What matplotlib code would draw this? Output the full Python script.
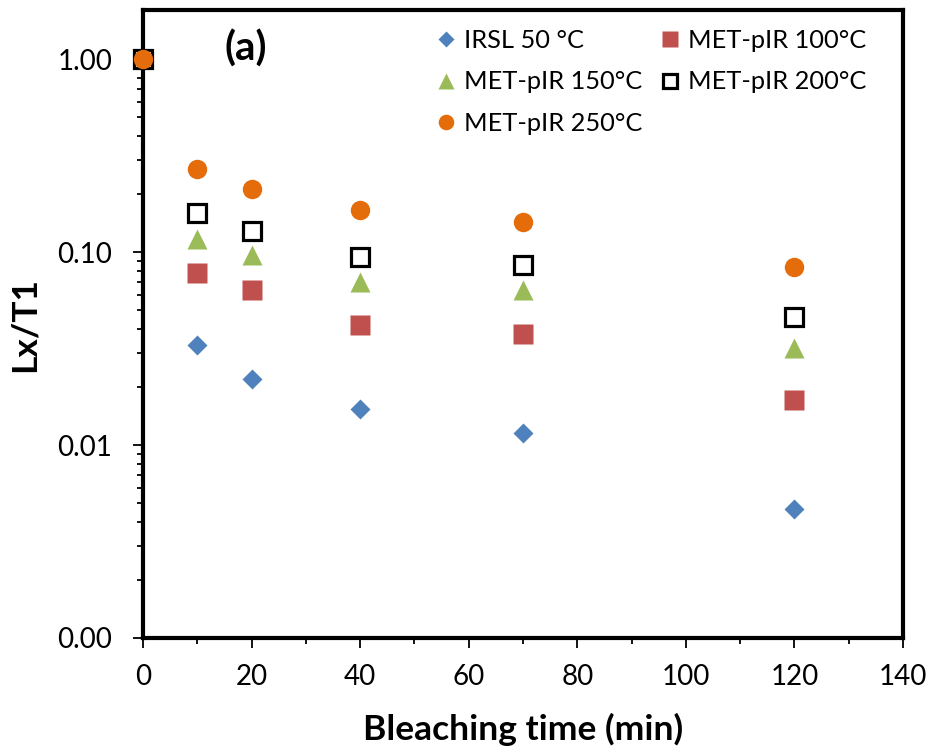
import matplotlib
matplotlib.use('Agg')
import matplotlib.pyplot as plt
from matplotlib.ticker import FixedLocator, FuncFormatter, LogLocator, NullFormatter, MultipleLocator

plt.rcParams['font.family'] = ['Lato', 'DejaVu Sans']

# 数据
times = [0, 10, 20, 40, 70, 120]
irsl_50 = [1.0, 0.0330, 0.0219, 0.0153, 0.0116, 0.00467]
met_100 = [1.0, 0.0783, 0.0634, 0.0421, 0.0377, 0.0171]
met_150 = [1.0, 0.117, 0.097, 0.0698, 0.0634, 0.0319]
met_200 = [1.0, 0.160, 0.128, 0.0948, 0.0855, 0.0459]
met_250 = [1.0, 0.269, 0.213, 0.1655, 0.144, 0.0838]

labels = ['IRSL 50 °C', 'MET-pIR 100°C', 'MET-pIR 150°C', 'MET-pIR 200°C', 'MET-pIR 250°C']

fig = plt.figure(figsize=(9.31, 7.55), dpi=100)
ax = fig.add_axes([143 / 931, 117 / 755, 760 / 931, 628 / 755])

# 散点（不连线）
kw = dict(ls='none', clip_on=False, zorder=3)
h_irsl, = ax.plot(times, irsl_50, 'D', ms=10.2, color='#4F81BD', mec='none', **kw)
h_100, = ax.plot(times, met_100, 's', ms=14.4, color='#C0504D', mec='none', **kw)
h_150, = ax.plot(times, met_150, '^', ms=15, color='#9BBB59', mec='none', **kw)
h_200, = ax.plot(times, met_200, 's', ms=12.5, mfc='white', mec='black', mew=2.3, **kw)
h_250, = ax.plot(times, met_250, 'o', ms=14, color='#E46C0A', mec='none', **kw)

ax.set_yscale('log')
ax.set_xlim(0, 140)
ax.set_ylim(0.001, 1.8)

ax.xaxis.set_major_locator(MultipleLocator(20))
ax.xaxis.set_minor_locator(MultipleLocator(10))
ax.yaxis.set_major_locator(FixedLocator([0.001, 0.01, 0.1, 1.0]))
ax.yaxis.set_minor_locator(LogLocator(base=10, subs=range(2, 10)))
ax.yaxis.set_minor_formatter(NullFormatter())
ax.yaxis.set_major_formatter(FuncFormatter(lambda v, p: '%.2f' % v))

for s in ax.spines.values():
    s.set_linewidth(3)
    s.set_color('black')

ax.tick_params(axis='both', which='major', direction='out', length=7, width=1.3,
               labelsize=20, color='black')
ax.tick_params(axis='both', which='minor', direction='out', length=4.5, width=1.3, color='black')
ax.tick_params(axis='y', which='major', pad=15)
ax.tick_params(axis='x', which='major', pad=12)
ax.tick_params(top=False, right=False, which='both')

ax.set_xlabel('Bleaching time (min)', fontsize=25.5, fontweight='bold', labelpad=16)
ax.set_ylabel('Lx/T1', fontsize=25.5, fontweight='bold', labelpad=12)

ax.text(246 / 931, 1 - 49 / 755, '(a)', transform=fig.transFigure, fontsize=29,
        fontweight='bold', ha='center', va='center')

handles = [h_irsl, h_150, h_250, h_100, h_200]
leg_labels = [labels[0], labels[2], labels[4], labels[1], labels[3]]
leg = ax.legend(handles, leg_labels, ncol=2, loc='upper left',
                bbox_to_anchor=(426 / 931, 1 - 19 / 755), bbox_transform=fig.transFigure,
                frameon=False, fontsize=18.3, markerscale=0.8, handlelength=0.75,
                handletextpad=0.35, columnspacing=0.7, labelspacing=0.72, borderaxespad=0)

fig.savefig('out.png', dpi=100, facecolor='white')
